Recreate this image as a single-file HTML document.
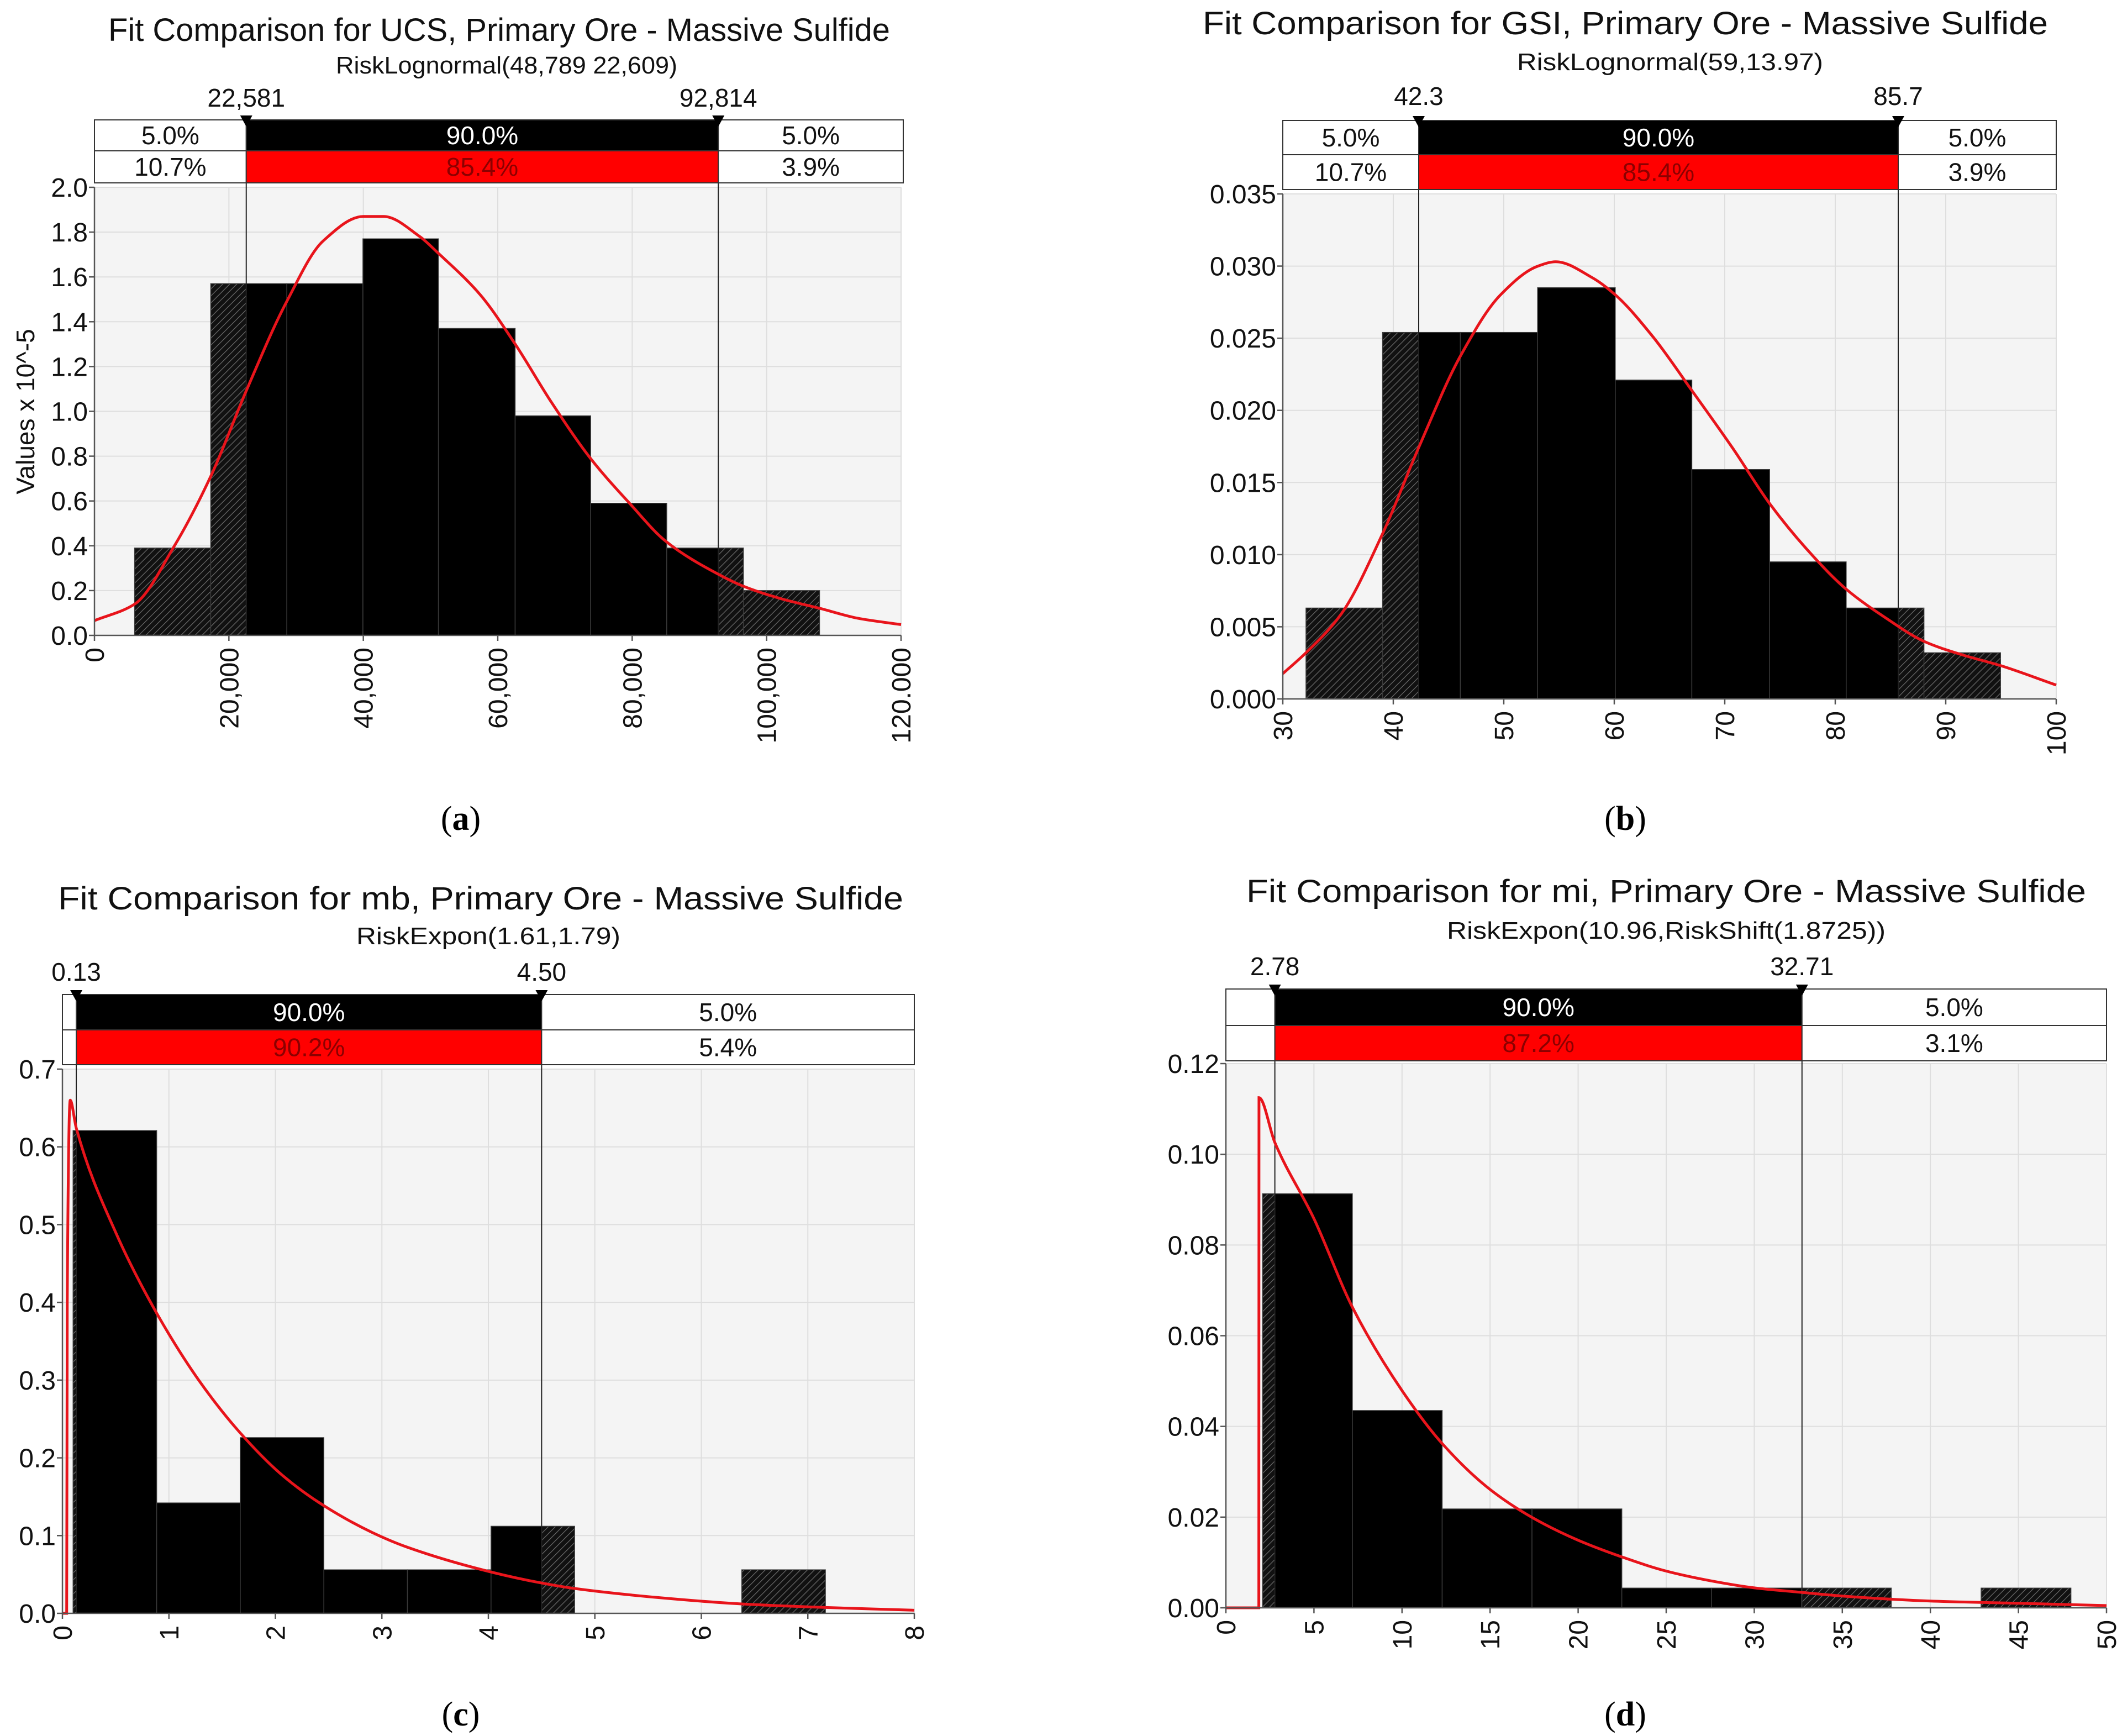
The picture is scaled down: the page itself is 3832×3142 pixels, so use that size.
<!DOCTYPE html>
<html><head><meta charset="utf-8">
<style>
html,body{margin:0;padding:0;background:#fff;}
svg{display:block;font-family:"Liberation Sans",sans-serif;}
</style></head>
<body>
<svg id="root" width="3832" height="3142" viewBox="0 0 3832 3142" xmlns="http://www.w3.org/2000/svg">
<defs>
<pattern id="hatch" patternUnits="userSpaceOnUse" width="9" height="9" patternTransform="rotate(45)">
<rect width="9" height="9" fill="#111"/>
<line x1="0" y1="0" x2="0" y2="9" stroke="#6a6a6a" stroke-width="2.5"/>
</pattern>
</defs>
</svg>
<script>
// ---- Chart (a) UCS ----
const aEdges=[5973,17296,28618,39940,51174,62585,73818,85140,96551,107874];
const aHeights=[0.39,1.57,1.57,1.77,1.37,0.98,0.59,0.39,0.20];
const aCurveX=[0,6000,11900,17300,22700,28600,34000,40000,43000,48400,51000,57400,62600,68000,73800,79600,85000,93000,96500,102000,108000,113500,120000];
const aCurveY=[0.066,0.14,0.40,0.71,1.10,1.49,1.76,1.87,1.87,1.78,1.71,1.52,1.30,1.04,0.79,0.59,0.42,0.27,0.22,0.165,0.12,0.077,0.048];
const aXTicks=[0,20000,40000,60000,80000,100000,120000];
const aXLabels=["0","20,000","40,000","60,000","80,000","100,000","120.000"];
const aYTicks=[0,0.2,0.4,0.6,0.8,1.0,1.2,1.4,1.6,1.8,2.0];
const aYLabels=["0.0","0.2","0.4","0.6","0.8","1.0","1.2","1.4","1.6","1.8","2.0"];
const aMarkers=[22581,92814];
const aMarkerLabels=["22,581","92,814"];
const aBandRow1=["5.0%","90.0%","5.0%"];
const aBandRow2=["10.7%","85.4%","3.9%"];

// ---- Chart (b) GSI ----
const bEdges=[32.1,39.03,46.07,53.06,60.09,67.02,74.06,80.99,88.03,94.96];
const bHeights=[0.0063,0.0254,0.0254,0.0285,0.0221,0.0159,0.0095,0.0063,0.0032];
const bCurveX=[30,32.1,35.3,39,42.4,46.1,49.7,53.1,54.7,58,60.1,63.5,67,70.7,74.1,77.4,81,84.6,88,91.3,95,100];
const bCurveY=[0.00175,0.0032,0.0059,0.0114,0.0176,0.0238,0.0280,0.0300,0.0303,0.0292,0.0280,0.0251,0.0214,0.0174,0.0135,0.0104,0.0076,0.0056,0.0040,0.0031,0.0023,0.00096];
const bXTicks=[30,40,50,60,70,80,90,100];
const bXLabels=["30","40","50","60","70","80","90","100"];
const bYTicks=[0,0.005,0.01,0.015,0.02,0.025,0.03,0.035];
const bYLabels=["0.000","0.005","0.010","0.015","0.020","0.025","0.030","0.035"];
const bMarkers=[42.3,85.7];
const bMarkerLabels=["42.3","85.7"];
const bBandRow1=["5.0%","90.0%","5.0%"];
const bBandRow2=["10.7%","85.4%","3.9%"];

// ---- Chart (c) mb ----
const cEdges=[0.10,0.885,1.67,2.455,3.24,4.025,4.81,5.595,6.38,7.165];
const cHeights=[0.621,0.142,0.226,0.056,0.056,0.112,0,0,0.056];
const cCurveX=[0,0.04,0.045,0.073,0.13,0.5,0.89,1.28,1.67,2.07,2.46,2.91,3.24,4.03,4.5,4.81,5.62,6.39,7.17,8];
const cCurveY=[0,0,0.40,0.66,0.624,0.49,0.385,0.300,0.232,0.177,0.138,0.104,0.085,0.053,0.039,0.032,0.020,0.012,0.0075,0.004];
const cXTicks=[0,1,2,3,4,5,6,7,8];
const cXLabels=["0","1","2","3","4","5","6","7","8"];
const cYTicks=[0,0.1,0.2,0.3,0.4,0.5,0.6,0.7];
const cYLabels=["0.0","0.1","0.2","0.3","0.4","0.5","0.6","0.7"];
const cMarkers=[0.13,4.50];
const cMarkerLabels=["0.13","4.50"];
const cBandRow1=["","90.0%","5.0%"];
const cBandRow2=["","90.2%","5.4%"];

// ---- Chart (d) mi ----
const dEdges=[2.08,7.18,12.28,17.38,22.48,27.58,32.68,37.78,42.88,47.98];
const dHeights=[0.0913,0.0435,0.0218,0.0218,0.00435,0.00435,0.00435,0,0.00435];
const dCurveX=[0,1.87,1.88,2.78,5,7.22,10,12.33,15,17.4,20,22.5,25,27.6,30,32.7,35,40,45,50];
const dCurveY=[0,0,0.1125,0.1026,0.0858,0.066,0.0479,0.036,0.0261,0.0199,0.0149,0.0112,0.0081,0.0059,0.0044,0.0034,0.0026,0.0015,0.001,0.0005];
const dXTicks=[0,5,10,15,20,25,30,35,40,45,50];
const dXLabels=["0","5","10","15","20","25","30","35","40","45","50"];
const dYTicks=[0,0.02,0.04,0.06,0.08,0.10,0.12];
const dYLabels=["0.00","0.02","0.04","0.06","0.08","0.10","0.12"];
const dMarkers=[2.78,32.71];
const dMarkerLabels=["2.78","32.71"];
const dBandRow1=["","90.0%","5.0%"];
const dBandRow2=["","87.2%","3.1%"];

const NS="http://www.w3.org/2000/svg";
const root=document.getElementById('root');
function mk(tag,attrs,parent,txt){
  const e=document.createElementNS(NS,tag);
  for(const k in attrs)e.setAttribute(k,attrs[k]);
  if(txt!==undefined)e.textContent=txt;
  (parent||root).appendChild(e);return e;
}

// monotone cubic (Fritsch-Carlson) path through pixel points
function monotone(pts){
  const n=pts.length;
  const dx=[],s=[];
  for(let i=0;i<n-1;i++){dx.push(pts[i+1][0]-pts[i][0]);s.push((pts[i+1][1]-pts[i][1])/dx[i]);}
  const m=[s[0]];
  for(let i=1;i<n-1;i++){
    if(s[i-1]*s[i]<=0)m.push(0);
    else{const w1=2*dx[i]+dx[i-1],w2=dx[i]+2*dx[i-1];m.push((w1+w2)/(w1/s[i-1]+w2/s[i]));}
  }
  m.push(s[n-2]);
  let d="M"+pts[0][0].toFixed(1)+","+pts[0][1].toFixed(1);
  for(let i=0;i<n-1;i++){
    const h=dx[i]/3;
    d+=" C"+(pts[i][0]+h).toFixed(1)+","+(pts[i][1]+m[i]*h).toFixed(1)+" "+(pts[i+1][0]-h).toFixed(1)+","+(pts[i+1][1]-m[i+1]*h).toFixed(1)+" "+pts[i+1][0].toFixed(1)+","+pts[i+1][1].toFixed(1);
  }
  return d;
}

function chart(c){
  const g=mk('g',{});
  
  
  const X=v=>c.px0+(v-c.x0)/(c.x1-c.x0)*(c.px1-c.px0);
  const Y=v=>c.py0-(v-c.y0)/(c.y1-c.y0)*(c.py0-c.py1);
  const t=mk('text',{x:(c.tx0+c.tx1)/2,y:c.titleY,'text-anchor':'middle','font-size':58,textLength:c.tx1-c.tx0,lengthAdjust:'spacingAndGlyphs',fill:'#111'},g,c.title);
  
  
  const st=mk('text',{x:(c.sx0+c.sx1)/2,y:c.subY,'text-anchor':'middle','font-size':44,textLength:c.sx1-c.sx0,lengthAdjust:'spacingAndGlyphs',fill:'#111'},g,c.sub);
  
  
  const bg=mk('rect',{x:c.px0,y:c.py1,width:c.px1-c.px0,height:c.py0-c.py1,fill:'#f4f4f4'},g);
  
  
  c.xt.forEach(v=>{const l=mk('line',{x1:X(v),x2:X(v),y1:c.py1,y2:c.py0,stroke:'#dedede','stroke-width':2},g);
    });
  c.yt.forEach(v=>{const l=mk('line',{x1:c.px0,x2:c.px1,y1:Y(v),y2:Y(v),stroke:'#dedede','stroke-width':2},g);
    });
  const m0=c.markers[0],m1=c.markers[1];
  for(let i=0;i<c.h.length;i++){
    if(c.h[i]<=0)continue;
    const a=c.edges[i],b=c.edges[i+1];
    const segs=[[a,Math.min(b,m0),true],[Math.max(a,m0),Math.min(b,m1),false],[Math.max(a,m1),b,true]];
    segs.forEach(s=>{
      if(s[1]<=s[0])return;
      const r=mk('rect',{x:X(s[0]),y:Y(c.h[i]),width:X(s[1])-X(s[0]),height:Y(0)-Y(c.h[i]),fill:s[2]?'url(#hatch)':'#000'},g);
      
      
    });
    const o=mk('rect',{x:X(a),y:Y(c.h[i]),width:X(b)-X(a),height:Y(0)-Y(c.h[i]),fill:'none',stroke:'#3a3a3a','stroke-width':1.5},g);
    
    
  }
  c.markers.forEach(v=>{const l=mk('line',{x1:X(v),x2:X(v),y1:c.b2,y2:c.py0,stroke:'#222','stroke-width':2},g);
    });
  const pts=c.cx.map((v,i)=>[X(v),Y(c.cy[i])]);
  const cv=mk('path',{d:monotone(pts),fill:'none',stroke:'#e8141b','stroke-width':5},g);
  
  
  const ax=mk('line',{x1:c.px0,x2:c.px1,y1:c.py0,y2:c.py0,stroke:'#555','stroke-width':2.5},g);
  
  const ay=mk('line',{x1:c.px0,x2:c.px0,y1:c.py1,y2:c.py0,stroke:'#555','stroke-width':2.5},g);
  
  c.yt.forEach((v,i)=>{
    mk('line',{x1:c.px0-10,x2:c.px0,y1:Y(v),y2:Y(v),stroke:'#555','stroke-width':2.5},g);
    const tl=mk('text',{x:c.px0-12,y:Y(v)+17,'text-anchor':'end','font-size':48,fill:'#111'},g,c.yl[i]);
    
  });
  c.xt.forEach((v,i)=>{
    mk('line',{x1:X(v),x2:X(v),y1:c.py0,y2:c.py0+10,stroke:'#555','stroke-width':2.5},g);
    const tl=mk('text',{x:X(v)+17,y:c.py0+22,'text-anchor':'end','font-size':48,fill:'#111',transform:'rotate(-90 '+(X(v)+17)+' '+(c.py0+22)+')'},g,c.xl[i]);
    
  });
  const bl=c.bandL,br=c.bandR,x0m=X(m0),x1m=X(m1);
  const cells=[[bl,x0m],[x0m,x1m],[x1m,br]];
  [[c.b0,c.b1,c.r1,'#000','#fff'],[c.b1,c.b2,c.r2,'#ff0000','#8b0000']].forEach(row=>{
    cells.forEach((cl,j)=>{
      if(cl[1]-cl[0]<=0)return;
      const r=mk('rect',{x:cl[0],y:row[0],width:cl[1]-cl[0],height:row[1]-row[0],fill:j==1?row[3]:'#fff',stroke:'#333','stroke-width':2},g);
      
      
      if(row[2][j]){
        const tx=mk('text',{x:(cl[0]+cl[1])/2,y:(row[0]+row[1])/2+16,'text-anchor':'middle','font-size':46,fill:j==1?row[4]:'#111'},g,row[2][j]);
        
        
      }
    });
  });
  c.markers.forEach((v,i)=>{
    const xm=X(v);
    const tri=mk('path',{d:'M'+(xm-11)+','+(c.b0-8)+' L'+(xm+11)+','+(c.b0-8)+' L'+xm+','+(c.b0+12)+'Z',fill:'#000'},g);
    
    
    const ml=mk('text',{x:xm,y:c.mlY,'text-anchor':'middle','font-size':46,fill:'#111'},g,c.ml[i]);
    
    
  });
  const pl=mk('text',{x:c.plX,y:c.plY,'text-anchor':'middle','font-size':62,'font-family':'"Liberation Serif",serif',fill:'#000'},g);
  
  
  mk('tspan',{},pl,'(');mk('tspan',{'font-weight':'bold'},pl,c.letter);mk('tspan',{},pl,')');
}

chart({name:'chart-ucs',title:'Fit Comparison for UCS, Primary Ore - Massive Sulfide',sub:'RiskLognormal(48,789 22,609)',
  tx0:196,tx1:1611,titleY:74,sx0:608,sx1:1226,subY:133,mlY:193,
  x0:0,x1:120000,px0:171,px1:1631,y0:0,y1:2,py0:1150,py1:339,
  b0:217,b1:273,b2:331,bandL:171,bandR:1635,
  edges:aEdges,h:aHeights,cx:aCurveX,cy:aCurveY,xt:aXTicks,xl:aXLabels,yt:aYTicks,yl:aYLabels,
  markers:aMarkers,ml:aMarkerLabels,r1:aBandRow1,r2:aBandRow2,plX:834,plY:1502,letter:'a'});
chart({name:'chart-gsi',title:'Fit Comparison for GSI, Primary Ore - Massive Sulfide',sub:'RiskLognormal(59,13.97)',
  tx0:2177,tx1:3707,titleY:62,sx0:2746,sx1:3300,subY:127,mlY:190,
  x0:30,x1:100,px0:2322,px1:3722,y0:0,y1:0.035,py0:1265,py1:351,
  b0:218,b1:280,b2:343,bandL:2322,bandR:3722,
  edges:bEdges,h:bHeights,cx:bCurveX,cy:bCurveY,xt:bXTicks,xl:bXLabels,yt:bYTicks,yl:bYLabels,
  markers:bMarkers,ml:bMarkerLabels,r1:bBandRow1,r2:bBandRow2,plX:2942,plY:1502,letter:'b'});
chart({name:'chart-mb',title:'Fit Comparison for mb, Primary Ore - Massive Sulfide',sub:'RiskExpon(1.61,1.79)',
  tx0:105,tx1:1635,titleY:1646,sx0:645,sx1:1123,subY:1709,mlY:1775,
  x0:0,x1:8,px0:113,px1:1655,y0:0,y1:0.7,py0:2920,py1:1935,
  b0:1800,b1:1864,b2:1927,bandL:113,bandR:1655,
  edges:cEdges,h:cHeights,cx:cCurveX,cy:cCurveY,xt:cXTicks,xl:cXLabels,yt:cYTicks,yl:cYLabels,
  markers:cMarkers,ml:cMarkerLabels,r1:cBandRow1,r2:cBandRow2,plX:834,plY:3123,letter:'c'});
chart({name:'chart-mi',title:'Fit Comparison for mi, Primary Ore - Massive Sulfide',sub:'RiskExpon(10.96,RiskShift(1.8725))',
  tx0:2256,tx1:3776,titleY:1633,sx0:2619,sx1:3413,subY:1699,mlY:1765,
  x0:0,x1:50,px0:2219,px1:3813,y0:0,y1:0.12,py0:2910,py1:1925,
  b0:1790,b1:1856,b2:1920,bandL:2219,bandR:3813,
  edges:dEdges,h:dHeights,cx:dCurveX,cy:dCurveY,xt:dXTicks,xl:dXLabels,yt:dYTicks,yl:dYLabels,
  markers:dMarkers,ml:dMarkerLabels,r1:dBandRow1,r2:dBandRow2,plX:2942,plY:3123,letter:'d'});

const yt=mk('text',{x:0,y:0,'text-anchor':'middle','font-size':46,fill:'#111',transform:'translate(62,745) rotate(-90)'},root,'Values x 10^-5');


</script>
</body></html>
